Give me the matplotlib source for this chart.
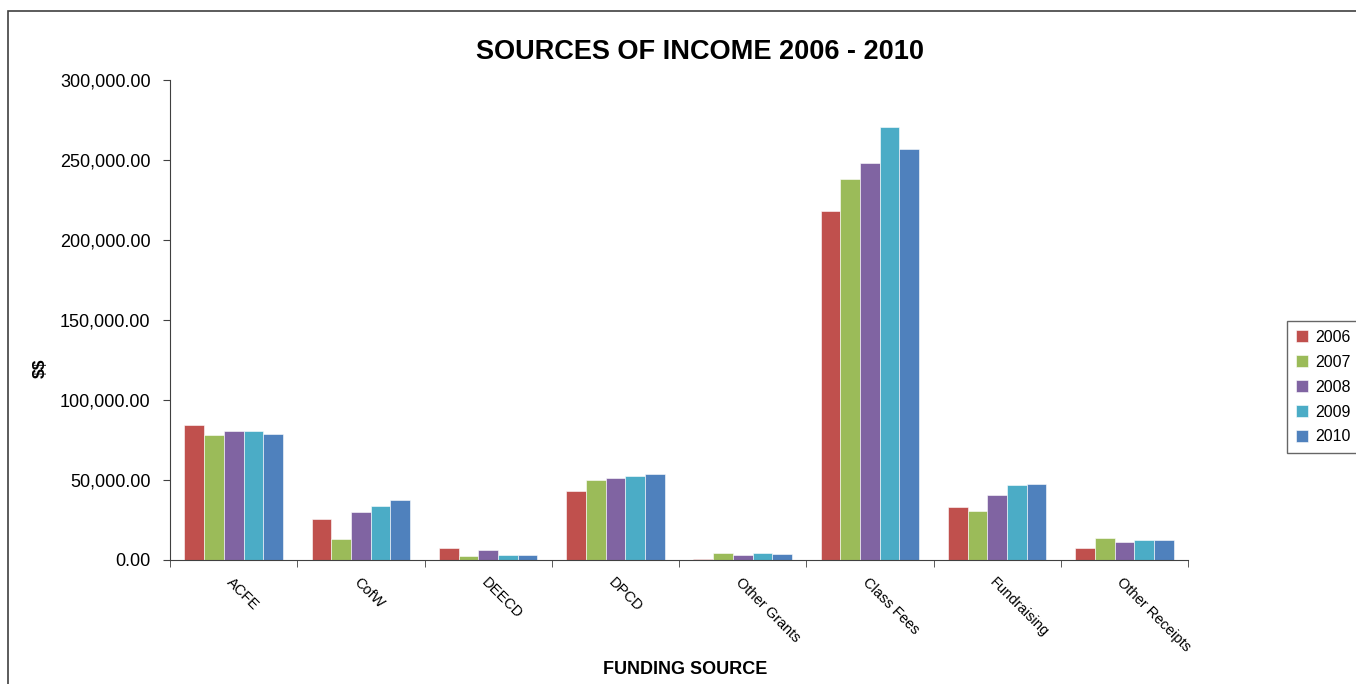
"""Sources of income 2006 - 2010, grouped bars by funding source."""

import numpy as np
import matplotlib
matplotlib.use('Agg')
import matplotlib.pyplot as plt
import matplotlib.transforms as mtransforms
from matplotlib.patches import Rectangle
from matplotlib.ticker import FuncFormatter, FixedLocator

sources = ['ACFE', 'CofW', 'DEECD', 'DPCD', 'Other Grants',
           'Class Fees', 'Fundraising', 'Other Receipts']
years = ['2006', '2007', '2008', '2009', '2010']

income_2006 = [84400, 25600, 7300, 43100, 400, 217900, 33400, 7600]
income_2007 = [78100, 13100, 2500, 50200, 4200, 238100, 30600, 14000]
income_2008 = [80600, 30200, 6500, 51500, 2900, 247900, 40900, 11300]
income_2009 = [80600, 33800, 3100, 52500, 4200, 270900, 47000, 12300]
income_2010 = [78800, 37500, 3100, 53800, 3600, 256900, 47600, 12300]

colors = ['#C0504D', '#9BBB59', '#8064A2', '#4BACC6', '#4F81BD']

plt.rcParams['font.family'] = ['Liberation Sans', 'DejaVu Sans']


def main():
    series = [income_2006, income_2007, income_2008, income_2009, income_2010]

    fig = plt.figure(figsize=(13.56, 6.84), dpi=100)
    ax = fig.add_axes([0.1254, 0.1813, 0.7507, 0.7017])

    x = np.arange(len(sources))
    bar_w = 0.155
    for i, (vals, year) in enumerate(zip(series, years)):
        offset = (i - 2) * bar_w
        ax.bar(x + offset, vals, width=bar_w, color=colors[i], label=year,
               edgecolor='white', linewidth=0.4)

    ax.set_xlim(-0.5, len(sources) - 0.5)
    ax.set_ylim(0, 300000)
    ax.set_yticks(np.arange(0, 300001, 50000))
    ax.yaxis.set_major_formatter(FuncFormatter(lambda v, p: f'{v:,.2f}'))

    ax.set_xticks(x)
    ax.set_xticklabels(sources, rotation=-45, ha='left', va='top',
                       rotation_mode='anchor', fontsize=10.5)
    # nudge category labels a little to the right, as in the original
    shift = mtransforms.ScaledTranslation(5 / 100, 0, fig.dpi_scale_trans)
    for lbl in ax.get_xticklabels():
        lbl.set_transform(lbl.get_transform() + shift)
    ax.tick_params(axis='x', which='major', length=0, pad=11)
    ax.xaxis.set_minor_locator(FixedLocator(np.arange(-0.5, len(sources), 1.0)))
    ax.tick_params(axis='x', which='minor', length=5, direction='out',
                   color='#404040')
    ax.tick_params(axis='y', length=5, direction='out', labelsize=13,
                   pad=9, color='#404040')

    for side in ['top', 'right']:
        ax.spines[side].set_visible(False)
    for side in ['left', 'bottom']:
        ax.spines[side].set_color('#404040')

    fig.text(700 / 1356, 1 - 52 / 684, 'SOURCES OF INCOME 2006 - 2010',
             fontsize=19.5, fontweight='bold', ha='center', va='center')
    fig.text(685 / 1356, 1 - 670 / 684, 'FUNDING SOURCE',
             fontsize=13, fontweight='bold', ha='center', va='center')
    ax.set_ylabel(r'\$\$', fontsize=12.5, fontweight='bold')
    ax.yaxis.set_label_coords(-0.12, 0.4)

    ax.legend(loc='center left', bbox_to_anchor=(0.949, 0.434),
              bbox_transform=fig.transFigure, fontsize=11.5,
              frameon=True, fancybox=False, edgecolor='#404040',
              handlelength=0.8, handleheight=0.8, handletextpad=0.4,
              labelspacing=0.62, borderpad=0.55, borderaxespad=0)

    # outer chart frame
    fig.patches.append(Rectangle((8 / 1356, -0.1), 1.1, 1.1 - 11 / 684,
                                 transform=fig.transFigure, fill=False,
                                 edgecolor='#404040', linewidth=1.2))

    fig.savefig('out.png', dpi=100)


if __name__ == '__main__':
    main()
